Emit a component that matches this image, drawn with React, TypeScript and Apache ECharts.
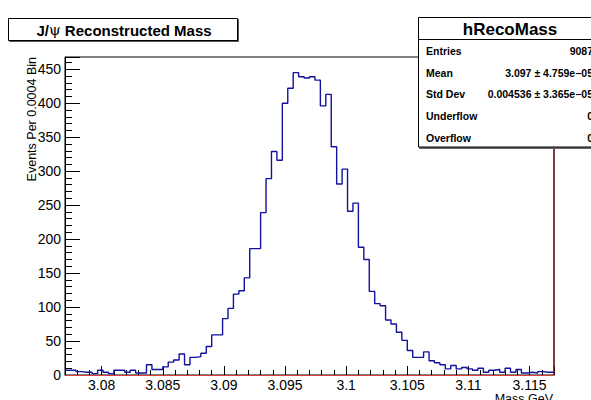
import React, { useEffect, useRef } from "react";
import * as echarts from "echarts";

// Histogram range and bin contents (90 bins)
const xMin = 3.077;
const xMax = 3.117;
const yMax = 468;

const counts = [
  7, 7, 5, 4, 4, 2, 7, 4, 2, 7,
  7, 4, 7, 3, 3, 15, 8, 8, 12, 19,
  22, 31, 15, 26, 27, 32, 42, 59, 59, 83,
  98, 119, 124, 143, 186, 186, 239, 289, 329, 316,
  400, 422, 445, 439, 437, 439, 434, 396, 413, 336,
  281, 303, 241, 253, 188, 170, 123, 105, 102, 81,
  75, 63, 51, 36, 26, 26, 34, 21, 18, 15,
  9, 14, 9, 11, 9, 7, 10, 4, 7, 8,
  4, 10, 4, 8, 3, 4, 3, 5, 4, 4,
];

const histTitle = "hRecoMass";
const statLabels = ["Entries", "Mean", "Std Dev", "Underflow", "Overflow"];
const statValues = [
  "9087",
  "3.097 \u00b1 4.759e\u221205",
  "0.004536 \u00b1 3.365e\u221205",
  "0",
  "0",
];
const yTitle = "Events Per 0.0004 Bin";
const xTitle = "Mass GeV";

const FONT = "'Liberation Sans', Arial, Helvetica, sans-serif";

export default function App() {
  const ref = useRef<HTMLDivElement>(null);
  useEffect(() => {
    if (!ref.current) return;
    const chart = echarts.init(ref.current, null, { renderer: "svg" });
    const w = (xMax - xMin) / counts.length;
    const data: number[][] = counts.map((c, i) => [xMin + i * w, c]);
    data.push([xMax, counts[counts.length - 1]]);

    const statRows: any[] = [];
    statLabels.forEach((lab, i) => {
      const y = 51 + i * 21.7;
      statRows.push({
        type: "text",
        x: 426,
        y,
        z: 102,
        style: {
          text: lab,
          fill: "#000",
          font: `bold 10.5px ${FONT}`,
          align: "left",
          verticalAlign: "middle",
        },
      });
      statRows.push({
        type: "text",
        x: 593,
        y,
        z: 102,
        style: {
          text: statValues[i],
          fill: "#000",
          font: `bold 10.5px ${FONT}`,
          align: "right",
          verticalAlign: "middle",
        },
      });
    });

    chart.setOption({
      animation: false,
      backgroundColor: "#fff",
      grid: {
        left: 65,
        right: 37,
        top: 57,
        bottom: 25,
        show: true,
        borderColor: "#000",
        borderWidth: 1,
        backgroundColor: "#fff",
      },
      xAxis: {
        type: "value",
        min: xMin,
        max: xMax,
        splitNumber: 8,
        minInterval: 0.005,
        maxInterval: 0.005,
        axisLine: { show: true, onZero: false, lineStyle: { color: "#000", width: 1 } },
        axisTick: { show: true, inside: true, length: 9, lineStyle: { color: "#000" } },
        minorTick: { show: true, splitNumber: 5, length: 5, lineStyle: { color: "#000" } },
        splitLine: { show: false },
        axisLabel: {
          showMinLabel: false,
          showMaxLabel: false,
          color: "#000",
          fontSize: 14,
          fontFamily: FONT,
          margin: 3,
          formatter: (v: number) => String(parseFloat(v.toFixed(4))),
        },
      },
      yAxis: {
        type: "value",
        min: 0,
        max: yMax,
        interval: 50,
        axisLine: { show: true, lineStyle: { color: "#000", width: 1 } },
        axisTick: { show: true, inside: true, length: 15, lineStyle: { color: "#000" } },
        minorTick: { show: true, splitNumber: 5, length: 7, lineStyle: { color: "#000" } },
        splitLine: { show: false },
        axisLabel: {
          showMaxLabel: false,
          color: "#000",
          fontSize: 14,
          fontFamily: FONT,
          margin: 4,
        },
      },
      series: [
        {
          type: "line",
          step: "end",
          symbol: "none",
          clip: true,
          data,
          lineStyle: { color: "#12129c", width: 1.4 },
        },
      ],
      graphic: [
        // red baseline and dark-red right frame edge
        {
          type: "line",
          z: 90,
          shape: { x1: 65, y1: 375.5, x2: 554, y2: 375.5 },
          style: { stroke: "#d84040", lineWidth: 1 },
        },
        {
          type: "line",
          z: 90,
          shape: { x1: 554, y1: 57, x2: 554, y2: 375 },
          style: { stroke: "#7a1010", lineWidth: 1.2 },
        },
        // title box
        {
          type: "rect",
          z: 100,
          shape: { x: 9.5, y: 19.5, width: 229, height: 22 },
          style: { fill: "#555", stroke: "#555", lineWidth: 1 },
        },
        {
          type: "rect",
          z: 101,
          shape: { x: 8.5, y: 18.5, width: 229, height: 22 },
          style: { fill: "#fff", stroke: "#000", lineWidth: 1 },
        },
        {
          type: "text",
          z: 102,
          x: 124,
          y: 30,
          style: {
            text: "{b|J/}{p|\u03c8}{b| Reconstructed Mass}",
            align: "center",
            verticalAlign: "middle",
            fill: "#000",
            rich: {
              b: { font: `bold 15px ${FONT}`, fill: "#000" },
              p: { font: `15px 'DejaVu Serif', serif`, fill: "#000" },
            },
          },
        },
        // stats box
        {
          type: "rect",
          z: 100,
          shape: { x: 419.5, y: 18.5, width: 185, height: 130 },
          style: { fill: "#666", stroke: "#666", lineWidth: 1 },
        },
        {
          type: "rect",
          z: 101,
          shape: { x: 418.5, y: 17.5, width: 185, height: 129.5 },
          style: { fill: "#fff", stroke: "#000", lineWidth: 1 },
        },
        {
          type: "line",
          z: 102,
          shape: { x1: 418.5, y1: 39.5, x2: 603, y2: 39.5 },
          style: { stroke: "#000", lineWidth: 1 },
        },
        {
          type: "text",
          z: 102,
          x: 510,
          y: 29,
          style: {
            text: histTitle,
            fill: "#000",
            font: `bold 17px ${FONT}`,
            align: "center",
            verticalAlign: "middle",
          },
        },
        ...statRows,
        // axis titles
        {
          type: "text",
          z: 102,
          x: 32,
          y: 57,
          rotation: Math.PI / 2,
          style: {
            text: yTitle,
            fill: "#000",
            font: `12.5px ${FONT}`,
            align: "right",
            verticalAlign: "middle",
          },
        },
        {
          type: "text",
          z: 102,
          x: 553,
          y: 392,
          style: {
            text: xTitle,
            fill: "#000",
            font: `12.5px ${FONT}`,
            align: "right",
            verticalAlign: "top",
          },
        },
      ],
    });
    return () => chart.dispose();
  }, []);
  return (
    <div
      ref={ref}
      style={{ width: 591, height: 400, position: "absolute", left: 0, top: 0 }}
    />
  );
}
